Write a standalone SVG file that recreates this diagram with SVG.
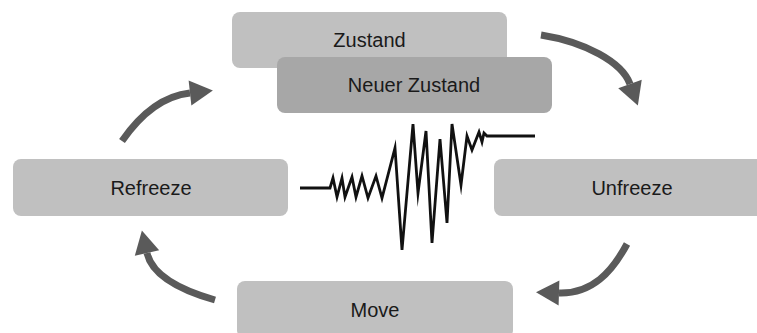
<svg xmlns="http://www.w3.org/2000/svg" width="757" height="333" viewBox="0 0 757 333">
<style>
.box{fill:#c0c0c0;}
.box2{fill:#a7a7a7;}
.lbl{font-family:"Liberation Sans",Arial,sans-serif;font-size:20px;fill:#1a1a1a;text-anchor:middle;}
.arr{fill:none;stroke:#5a5a5a;stroke-width:7;stroke-linecap:butt;marker-end:url(#head);}
.wave{fill:none;stroke:#111;stroke-width:2.8;stroke-linejoin:miter;stroke-miterlimit:10;}
</style>
<defs>
<marker id="head" markerUnits="userSpaceOnUse" markerWidth="26" markerHeight="28" refX="0" refY="12.5" orient="auto" overflow="visible">
<path d="M0,0 L23,12.5 L0,25 z" fill="#5a5a5a"/>
</marker>
</defs>
<rect width="757" height="333" fill="#ffffff"/>
<g id="zustand"><rect class="box" x="232" y="12" width="275" height="56" rx="8"/><text class="lbl" x="369.5" y="47">Zustand</text></g>
<g id="neuer-zustand"><rect class="box2" x="277" y="57" width="275" height="56" rx="8"/><text class="lbl" x="414" y="92">Neuer Zustand</text></g>
<g id="refreeze"><rect class="box" x="13" y="159" width="275" height="57" rx="8"/><text class="lbl" x="151" y="195">Refreeze</text></g>
<g id="unfreeze"><rect class="box" x="494" y="159" width="275" height="57" rx="8"/><text class="lbl" x="632" y="195">Unfreeze</text></g>
<g id="move"><rect class="box" x="237" y="281" width="276" height="57" rx="8"/><text class="lbl" x="375" y="317">Move</text></g>
<g id="wave"><polyline class="wave" points="300,188 330,188 333,178 337,197 342,178 345,197 352,177 356,197 362,176 368,198 376,176 382,198 395,148 402,250 413,124 418,193 426,131 432,243 440,139 447,223 452,124 461,185 467,136 472,150 479,132 482,142 484,133 487,136 535,136"/></g>
<g id="connectors">
<path class="arr" d="M541,35 C585,42 622,62 630,84"/>
<path class="arr" d="M627,244 C612,272 592,294 559,293"/>
<path class="arr" d="M215,300 C180,290 152,275 147,253"/>
<path class="arr" d="M122,141 C140,115 163,96 190,93"/>
</g>
</svg>
